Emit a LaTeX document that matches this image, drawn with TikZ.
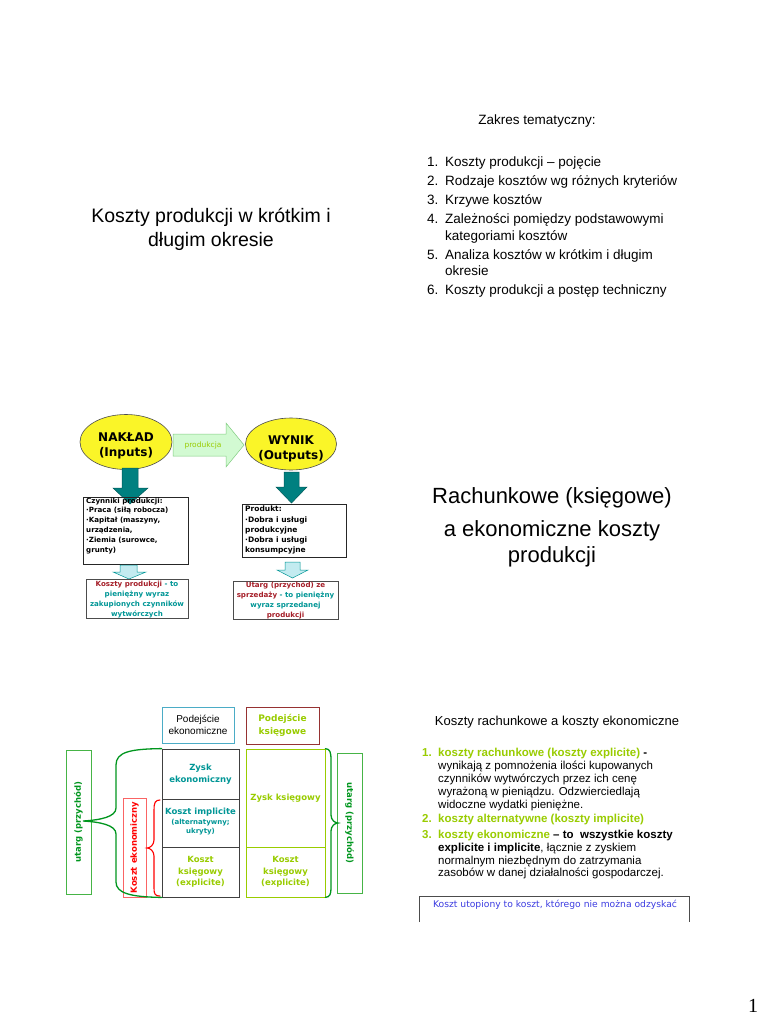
\documentclass[tikz,border=0pt]{standalone}
\usepackage{fontspec}
\setmainfont{Liberation Sans}
\newfontfamily\comic{DejaVu Sans}
\newfontfamily\pagefont{Liberation Serif}
\usetikzlibrary{shapes.geometric,calc}
\definecolor{lime}{RGB}{153,204,0}
\definecolor{tealc}{RGB}{0,150,150}
\definecolor{darkteal}{RGB}{0,128,128}
\definecolor{dred}{RGB}{165,30,40}
\definecolor{gr}{RGB}{0,150,30}
\definecolor{grbox}{RGB}{70,180,70}
\definecolor{pinkbox}{RGB}{250,100,100}
\definecolor{ylw}{RGB}{250,245,40}
\definecolor{lgreen}{RGB}{210,250,210}
\definecolor{lcyan}{RGB}{195,235,240}
\definecolor{bluet}{RGB}{60,60,225}
\definecolor{boxteal}{RGB}{75,172,198}
\definecolor{boxred}{RGB}{150,50,50}
\tikzset{
  slide/.style={font=\fontsize{13.5}{17}\selectfont, inner sep=0pt, anchor=west, text height=10pt, text depth=3pt},
  titletxt/.style={font=\fontsize{19.5}{24}\selectfont, align=center, inner sep=0pt},
  bigtitle/.style={font=\fontsize{22}{26}\selectfont, inner sep=0pt},
  small/.style={font=\fontsize{11.5}{13}\selectfont, inner sep=0pt, anchor=west, text height=8.5pt, text depth=2.5pt},
  cbox/.style={draw, inner sep=0pt, line width=0.7pt},
  ctext/.style={font=\comic\bfseries\fontsize{7}{10}\selectfont, align=center, inner sep=0pt},
  cleft/.style={font=\comic\bfseries\fontsize{7.1}{9.9}\selectfont, align=left, inner sep=0pt, anchor=north west},
  ell/.style={ellipse, draw=black!70, fill=ylw, line width=0.6pt, inner sep=0pt},
  tealarrow/.style={fill=darkteal, draw=darkteal!70!black, line width=0.5pt},
  lightarrow/.style={fill=lcyan, draw=tealc, line width=0.5pt},
  colbox/.style={draw=black!75, line width=0.8pt, inner sep=0pt, minimum width=77},
  brace/.style={line width=1.3pt, line cap=round}
}
\begin{document}
\begin{tikzpicture}[x=1pt,y=-1pt]
\useasboundingbox (0,0) rectangle (768,1024);
\fill[white] (0,0) rectangle (768,1024);

% ---------------- Slide 1 ----------------
\node[titletxt] (t1) at (211,229) {Koszty produkcji w krótkim i\\długim okresie};
\node[slide, anchor=center] (zakres) at (537,121) {Zakres tematyczny:};
\foreach \n/\yy/\txt in {1./163/{Koszty produkcji -- pojęcie},
                          2./182/{Rodzaje kosztów wg różnych kryteriów},
                          3./201/{Krzywe kosztów},
                          4./220/{Zależności pomiędzy podstawowymi},
                          /237/{kategoriami kosztów},
                          5./256/{Analiza kosztów w krótkim i długim},
                          /272/{okresie},
                          6./291/{Koszty produkcji a postęp techniczny}}{
  \node[slide] at (427,\yy) {\n};
  \node[slide] at (445,\yy) {\txt};
}

% ---------------- Slide 2 (diagram) ----------------
\node[ell, minimum width=92, minimum height=55] (naklad) at (126,442) {};
\node[ctext, font=\comic\bfseries\fontsize{12}{15}\selectfont] (nakladt) at (126,446) {NAKŁAD\\(Inputs)};
\node[ell, minimum width=91, minimum height=52] (wynik) at (291,444) {};
\node[ctext, font=\comic\bfseries\fontsize{12}{15}\selectfont] (wynikt) at (291,449) {WYNIK\\(Outputs)};
% produkcja arrow
\draw[fill=lgreen, draw=green!60!black!50, line width=0.5pt]
  (173,434) -- (226,434) -- (226,423) -- (244,445) -- (226,467) -- (226,456) -- (173,456) -- cycle;
\node[font=\comic\fontsize{7.5}{9}\selectfont, text=lime, inner sep=0pt] (prod) at (203,445) {produkcja};
% teal arrows
\draw[tealarrow] (122,468) -- (138,468) -- (138,488) -- (148,488) -- (130,504) -- (113,488) -- (122,488) -- cycle;
\draw[tealarrow] (284,472) -- (299,472) -- (299,487) -- (307,487) -- (291.5,503) -- (276,487) -- (284,487) -- cycle;
% boxes
\node[cbox, draw=black!85, minimum width=105, minimum height=67] (czyn) at (135.5,530.5) {};
\node[cleft] (czynt) at (86,497.5) {Czynniki produkcji:\\·Praca (siłą robocza)\\·Kapitał (maszyny,\\urządzenia,\\·Ziemia (surowce,\\grunty)};
\node[cbox, draw=black!85, minimum width=104, minimum height=53] (produkt) at (294,530.5) {};
\node[cleft, font=\comic\bfseries\fontsize{7.5}{10.2}\selectfont] (produktt) at (245,506) {Produkt:\\·Dobra i usługi\\produkcyjne\\·Dobra i usługi\\konsumpcyjne};
% light arrows
\draw[lightarrow] (120,565) -- (137,565) -- (137,572) -- (146,572) -- (129,579) -- (113,572) -- (120,572) -- cycle;
\draw[lightarrow] (285,562) -- (300,562) -- (300,570) -- (308,570) -- (292.5,578) -- (277,570) -- (285,570) -- cycle;
\node[cbox, draw=black!70, minimum width=102, minimum height=39] (koszty) at (137,598.5) {};
\node[ctext, font=\comic\bfseries\fontsize{7.1}{10.2}\selectfont] (kosztyt) at (137,599.5)
  {\textcolor{dred}{Koszty produkcji} \textcolor{tealc}{- to}\\\textcolor{tealc}{pieniężny wyraz}\\\textcolor{tealc}{zakupionych czynników}\\\textcolor{tealc}{wytwórczych}};
\node[cbox, draw=black!70, minimum width=105, minimum height=38] (utargb) at (285.5,600) {};
\node[ctext, font=\comic\bfseries\fontsize{7.1}{10.2}\selectfont] (utargt) at (285.5,600.5)
  {\textcolor{dred}{Utarg (przychód) ze}\\\textcolor{dred}{sprzedaży} \textcolor{tealc}{- to pieniężny}\\\textcolor{tealc}{wyraz sprzedanej}\\\textcolor{dred}{produkcji}};

% ---------------- Slide 3 ----------------
\node[bigtitle] (r1) at (552,498) {Rachunkowe (księgowe)};
\node[bigtitle] (r2) at (552,531) {a ekonomiczne koszty};
\node[bigtitle] (r3) at (552,557) {produkcji};

% ---------------- Slide 4 (diagram) ----------------
\node[draw=boxteal, line width=0.8pt, minimum width=72, minimum height=36, align=center, inner sep=0pt,
      font=\fontsize{10}{12.5}\selectfont] (pe) at (198,725) {Podejście\\ekonomiczne};
\node[draw=boxred, line width=0.8pt, minimum width=73, minimum height=37, align=center, inner sep=0pt,
      font=\comic\bfseries\fontsize{9}{12.5}\selectfont, text=lime] (pk) at (282.5,725.5) {Podejście\\księgowe};
% left column
\node[colbox, minimum height=50, align=center, text=tealc, font=\comic\bfseries\fontsize{8.5}{12.5}\selectfont] (zek) at (200.5,774) {Zysk\\ekonomiczny};
\node[colbox, minimum height=48] (kimp) at (200.5,823) {};
\node[align=center, inner sep=0pt, text=tealc, font=\comic\bfseries\fontsize{8.5}{11}\selectfont] (kimpt) at (200.5,822)
  {Koszt implicite\\[-1pt]{\fontsize{7}{8.5}\selectfont (alternatywny;}\\[-2pt]{\fontsize{7}{8.5}\selectfont ukryty)}};
\node[colbox, minimum height=50, align=center, text=lime, font=\comic\bfseries\fontsize{8.5}{11.5}\selectfont] (kks) at (200.5,872) {Koszt\\księgowy\\(explicite)};
% right column
\node[colbox, draw=lime, minimum width=79, minimum height=98, text=lime, font=\comic\bfseries\fontsize{8.5}{11}\selectfont] (zks) at (285.5,798) {Zysk księgowy};
\node[colbox, draw=lime, minimum width=79, minimum height=50, align=center, text=lime, font=\comic\bfseries\fontsize{8.5}{11.5}\selectfont] (kks2) at (285.5,872) {Koszt\\księgowy\\(explicite)};
% side boxes
\node[draw=grbox, line width=0.8pt, rotate=90, minimum width=144, minimum height=25, inner sep=0pt,
      text=gr, font=\comic\bfseries\fontsize{8.5}{10}\selectfont] (utl) at (78.5,822) {utarg (przychód)};
\node[draw=pinkbox, line width=0.8pt, rotate=90, minimum width=99, minimum height=23, inner sep=0pt,
      text=red, font=\comic\bfseries\fontsize{8.5}{10}\selectfont] (kek) at (134.5,847.5) {Koszt ekonomiczny};
\node[draw=grbox, line width=0.8pt, rotate=-90, minimum width=140, minimum height=25, inner sep=0pt,
      text=gr, font=\comic\bfseries\fontsize{8.5}{10}\selectfont] (utr) at (349.5,823) {utarg (przychód)};
% braces
\draw[brace, draw=gr] (zek.north west) .. controls (130,749) and (116,752) .. (116,765) -- (116,808)
  .. controls (116,817) and (100,820) .. (83,821) .. controls (100,822) and (116,825) .. (116,834)
  -- (116,882) .. controls (116,893) and (130,897) .. (kks.south west);
\draw[brace, draw=red, line width=1.1pt] (160,800) .. controls (155,800) and (154,803) .. (154,810) -- (154,840)
  .. controls (154,845) and (150,848) .. (147,848) .. controls (150,848) and (154,851) .. (154,856)
  -- (154,888) .. controls (154,894) and (155,896) .. (160,896);
\draw[brace, draw=gr] (zks.north east) .. controls (330,749) and (331,752) .. (331,760) -- (331,815)
  .. controls (331,820) and (335,823) .. (338,823) .. controls (335,823) and (331,826) .. (331,831)
  -- (331,888) .. controls (331,894) and (330,897) .. (kks2.south east);

% ---------------- Slide 5 ----------------
\node[inner sep=0pt, font=\fontsize{13}{15}\selectfont] (kr) at (557,722) {Koszty rachunkowe a koszty ekonomiczne};
\node[small, text=lime, font=\bfseries\fontsize{11.5}{13}\selectfont] at (422,753) {1.};
\node[small] at (438,753) {\textbf{\textcolor{lime}{koszty rachunkowe (koszty explicite)}} \textbf{-}};
\node[small] at (438,766) {wynikają z pomnożenia ilości kupowanych};
\node[small] at (438,779) {czynników wytwórczych przez ich cenę};
\node[small] at (438,792) {wyrażoną w pieniądzu. Odzwierciedlają};
\node[small] at (438,805) {widoczne wydatki pieniężne.};
\node[small, text=lime, font=\bfseries\fontsize{11.5}{13}\selectfont] at (422,819) {2.};
\node[small, text=lime, font=\bfseries\fontsize{11.5}{13}\selectfont] at (438,819) {koszty alternatywne (koszty implicite)};
\node[small, text=lime, font=\bfseries\fontsize{11.5}{13}\selectfont] at (422,835) {3.};
\node[small] at (438,835) {\textbf{\textcolor{lime}{koszty ekonomiczne} -- to\ \ wszystkie koszty}};
\node[small] at (438,848) {\textbf{explicite i implicite}, łącznie z zyskiem};
\node[small] at (438,861) {normalnym niezbędnym do zatrzymania};
\node[small] at (438,873) {zasobów w danej działalności gospodarczej.};
\node[inner sep=0pt, text=bluet, font=\comic\fontsize{9.2}{11}\selectfont] (sunk) at (555,905) {Koszt utopiony to koszt, którego nie można odzyskać};
\draw[black!70, line width=0.7pt] (419,922) -- (419,896) -- (689,896) -- (689,922);

% page number
\node[inner sep=0pt, font=\pagefont\fontsize{20}{22}\selectfont] (pg) at (753,1006) {1};
\end{tikzpicture}
\end{document}
